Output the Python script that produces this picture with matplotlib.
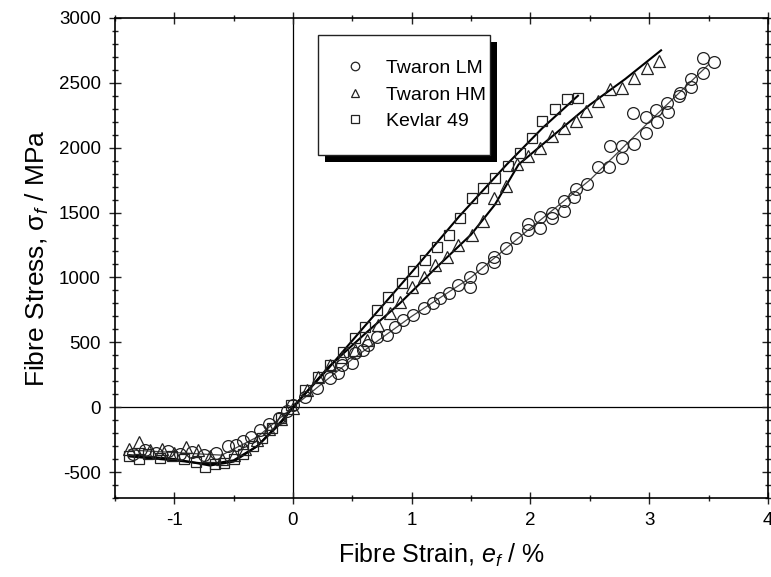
import matplotlib
matplotlib.use("Agg")
import matplotlib.pyplot as plt
from matplotlib.ticker import MultipleLocator
from matplotlib.patches import Rectangle

plt.rcParams['font.family'] = ['Liberation Sans', 'DejaVu Sans']
plt.rcParams['mathtext.fontset'] = 'custom'
plt.rcParams['mathtext.rm'] = 'Liberation Sans'
plt.rcParams['mathtext.it'] = 'Liberation Sans:italic'
plt.rcParams['axes.unicode_minus'] = False

# ---- data ----
lm_x = [-1.35, -1.25, -1.15, -1.05, -0.95, -0.85, -0.75, -0.65, -0.55, -0.48, -0.42, -0.35, -0.28, -0.2, -0.12, -0.05,
        0.0, 0.1, 0.2, 0.31, 0.38, 0.41, 0.5, 0.52, 0.59, 0.63, 0.71, 0.79, 0.86, 0.93, 1.01, 1.1, 1.18, 1.24, 1.31,
        1.39, 1.49, 1.49, 1.59, 1.69, 1.69, 1.79, 1.88, 1.98, 1.98, 2.08, 2.08, 2.18, 2.18, 2.28, 2.28, 2.37, 2.38,
        2.48, 2.57, 2.66, 2.67, 2.77, 2.77, 2.86, 2.87, 2.97, 2.97, 3.06, 3.07, 3.15, 3.16, 3.25, 3.26, 3.35, 3.35,
        3.45, 3.45, 3.55]
lm_y = [-360, -330, -350, -340, -360, -345, -370, -350, -300, -290, -260, -230, -180, -130, -80, -30,
        20, 80, 150, 223, 262, 323, 338, 415, 438, 477, 538, 554, 615, 669, 708, 762, 800, 838, 877,
        938, 1000, 923, 1069, 1154, 1115, 1223, 1300, 1415, 1362, 1462, 1377, 1500, 1454, 1592, 1508, 1623, 1685,
        1723, 1854, 1854, 2015, 2015, 1923, 2269, 2031, 2238, 2115, 2292, 2200, 2346, 2277, 2400, 2423, 2530, 2469,
        2692, 2577, 2662]

hm_x = [-1.38, -1.3, -1.2, -1.1, -1.0, -0.9, -0.8, -0.7, -0.6, -0.5, -0.4, -0.3, -0.2, -0.1, 0.0,
        0.12, 0.21, 0.31, 0.41, 0.52, 0.62, 0.72, 0.82, 0.9, 1.0, 1.1, 1.2, 1.3, 1.39, 1.51, 1.6, 1.69, 1.79,
        1.89, 1.98, 2.08, 2.18, 2.28, 2.38, 2.47, 2.57, 2.67, 2.77, 2.87, 2.98, 3.08]
hm_y = [-320, -270, -330, -320, -350, -310, -330, -380, -400, -370, -320, -250, -170, -90, -10,
        131, 231, 323, 385, 438, 515, 631, 723, 808, 923, 1000, 1092, 1154, 1246, 1323, 1438, 1608, 1708,
        1877, 1938, 2000, 2092, 2154, 2208, 2285, 2362, 2454, 2462, 2538, 2615, 2669]

kv_x = [-1.38, -1.3, -1.22, -1.12, -1.02, -0.92, -0.82, -0.74, -0.66, -0.58, -0.5, -0.42, -0.34, -0.26, -0.18, -0.1, -0.02,
        0.1, 0.21, 0.31, 0.42, 0.52, 0.61, 0.71, 0.8, 0.92, 1.01, 1.11, 1.21, 1.31, 1.41, 1.51, 1.6, 1.7, 1.81,
        1.91, 2.01, 2.1, 2.21, 2.31, 2.4]
kv_y = [-380, -400, -360, -390, -380, -400, -420, -460, -440, -430, -400, -360, -300, -240, -160, -80, 20,
        130, 231, 323, 423, 531, 615, 746, 846, 954, 1046, 1131, 1231, 1323, 1454, 1615, 1692, 1769, 1862,
        1958, 2073, 2208, 2300, 2377, 2385]

# fitted curves
lm_fit_x = [-1.38, -1.0, -0.6, -0.3, 0.0, 0.5, 1.0, 1.5, 2.0, 2.5, 3.0, 3.5]
lm_fit_y = [-330, -350, -370, -230, 0, 370, 700, 1000, 1380, 1750, 2200, 2640]
hm_fit_x = [-1.38, -1.0, -0.7, -0.5, -0.3, -0.1, 0.0, 0.3, 0.6, 0.9, 1.2, 1.5, 1.7, 1.9, 2.2, 2.5, 2.8, 3.1]
hm_fit_y = [-370, -400, -450, -420, -300, -110, 0, 310, 560, 800, 1070, 1330, 1560, 1870, 2100, 2330, 2530, 2750]
kv_fit_x = [-1.38, -1.0, -0.7, -0.5, -0.3, -0.1, 0.0, 0.3, 0.6, 1.0, 1.4, 1.8, 2.1, 2.4]
kv_fit_y = [-380, -410, -440, -410, -300, -120, 0, 300, 620, 1040, 1470, 1870, 2150, 2400]

labels = ['Twaron LM', 'Twaron HM', 'Kevlar 49']
x_ticks = [-1, 0, 1, 2, 3, 4]
y_ticks = [-500, 0, 500, 1000, 1500, 2000, 2500, 3000]

fig = plt.figure(figsize=(7.71, 5.77), dpi=100)
ax = fig.add_axes([0.149, 0.137, 0.847, 0.832])

ax.axhline(0, color='k', lw=0.9, zorder=1)
ax.axvline(0, color='k', lw=0.9, zorder=1)

ax.plot(lm_fit_x, lm_fit_y, color='#444444', lw=0.9, zorder=2)
ax.plot(hm_fit_x, hm_fit_y, color='k', lw=1.5, zorder=2)
ax.plot(kv_fit_x, kv_fit_y, color='k', lw=1.5, zorder=2)

ms = 8.5
ax.plot(lm_x, lm_y, ls='none', marker='o', ms=ms, mfc='none', mec='#222222', mew=0.9, label=labels[0], zorder=3)
ax.plot(hm_x, hm_y, ls='none', marker='^', ms=ms, mfc='none', mec='#222222', mew=0.9, label=labels[1], zorder=3)
ax.plot(kv_x, kv_y, ls='none', marker='s', ms=ms - 1, mfc='none', mec='#222222', mew=0.9, label=labels[2], zorder=3)

ax.set_xlim(-1.5, 4)
ax.set_ylim(-700, 3000)
ax.set_xticks(x_ticks)
ax.set_yticks(y_ticks)
ax.xaxis.set_minor_locator(MultipleLocator(0.5))
ax.yaxis.set_minor_locator(MultipleLocator(100))
ax.tick_params(which='both', direction='inout', top=True, right=True, labelsize=13.5, width=1.0, color='#222222')
ax.tick_params(which='major', length=8, pad=6)
ax.tick_params(which='minor', length=5)
for s in ax.spines.values():
    s.set_linewidth(1.2)

ax.set_xlabel('Fibre Strain, $e_f$ / %', fontsize=18, labelpad=9)
ax.set_ylabel(r'Fibre Stress, $\mathrm{\sigma}_f$ / MPa', fontsize=19, labelpad=6)

# legend frame + drop shadow (axes fraction)
box_x0, box_y0, box_w, box_h = 0.311, 0.715, 0.263, 0.25
sh_dx, sh_dy = 7 / 653, 7 / 480
ax.add_patch(Rectangle((box_x0 + sh_dx, box_y0 - sh_dy), box_w, box_h, transform=ax.transAxes,
                       facecolor='k', edgecolor='none', zorder=5, clip_on=False))
ax.add_patch(Rectangle((box_x0, box_y0), box_w, box_h, transform=ax.transAxes,
                       facecolor='white', edgecolor='#222222', lw=1.0, zorder=5.5, clip_on=False))

leg = ax.legend(loc='center left', bbox_to_anchor=(0.338, 0.84), frameon=False,
                fontsize=14, borderpad=0, labelspacing=0.45, handletextpad=0.6,
                handlelength=2.0, borderaxespad=0, markerscale=0.72)
leg.set_zorder(6)

fig.savefig('out.png', dpi=100)
